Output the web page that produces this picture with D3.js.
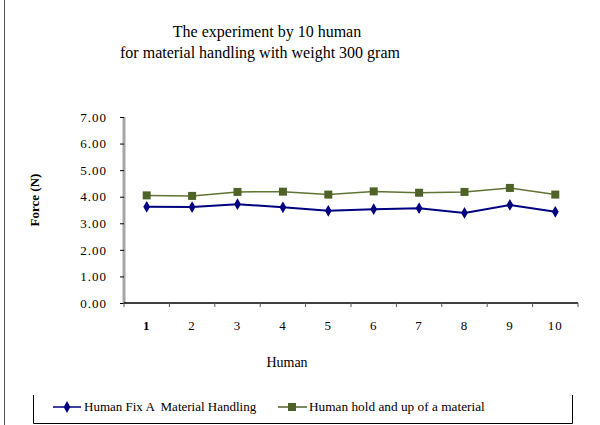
<!DOCTYPE html>
<html><head><meta charset="utf-8">
<script src="https://cdn.jsdelivr.net/npm/d3@7"></script>
<style>body{margin:0;background:#fff}svg{display:block}text{font-family:"Liberation Serif","Times New Roman",serif;fill:#000;white-space:pre}</style>
</head><body>
<script>
const categories = ["1","2","3","4","5","6","7","8","9","10"];
const seriesFix = [3.62, 3.61, 3.72, 3.60, 3.47, 3.53, 3.57, 3.39, 3.69, 3.43];
const seriesHold = [4.05, 4.03, 4.18, 4.19, 4.08, 4.20, 4.15, 4.18, 4.33, 4.08];
const yTicks = [0,1,2,3,4,5,6,7];
const seriesNames = ["Human Fix A  Material Handling", "Human hold and up of a material"];
const titleLines = ["The experiment by 10 human", "for material handling with weight 300 gram"];

const W=600,H=425;
const svg=d3.select("body").append("svg").attr("width",W).attr("height",H);
svg.append("rect").attr("width",W).attr("height",H).attr("fill","#fff");
svg.append("line").attr("x1",4.5).attr("x2",4.5).attr("y1",0).attr("y2",H).attr("stroke","#555").attr("stroke-width",1);

const x=d3.scaleBand().domain(categories).range([124,578]);
const y=d3.scaleLinear().domain([0,7]).range([303,117]);

// title
svg.append("text").attr("x",267).attr("y",37).attr("text-anchor","middle").attr("font-size",16).text(titleLines[0]);
svg.append("text").attr("x",260).attr("y",58).attr("text-anchor","middle").attr("font-size",16).text(titleLines[1]);

// y axis
const ya=svg.append("g").attr("transform","translate(124,0)")
  .call(d3.axisLeft(y).tickValues(yTicks).tickFormat(d3.format(".2f")).tickSize(4).tickPadding(13));
ya.select(".domain").attr("stroke","#a6a6a6").attr("stroke-width",3).attr("d","M0,117V304");
ya.selectAll(".tick line").attr("stroke","#000");
ya.selectAll(".tick text").attr("font-size",13).attr("letter-spacing",1).attr("font-family","Liberation Serif, serif").attr("fill","#000");

// x axis
const xa=svg.append("g").attr("transform","translate(0,303)")
  .call(d3.axisBottom(x).tickSize(0).tickPadding(18));
xa.select(".domain").attr("stroke","#000").attr("stroke-width",1.5).attr("d","M124,0H578");
xa.selectAll(".tick text").attr("font-size",13).attr("letter-spacing",1).attr("font-family","Liberation Serif, serif").attr("fill","#000").attr("font-weight",(d,i)=>i===0?"bold":"normal");
const tickPos=categories.map(c=>x(c)).concat([x.range()[1]]);
svg.append("g").selectAll("line").data(tickPos).join("line")
  .attr("x1",d=>d).attr("x2",d=>d).attr("y1",303).attr("y2",307).attr("stroke","#555").attr("stroke-width",1);

// axis titles
svg.append("text").attr("transform","translate(39,200) rotate(-90)").attr("text-anchor","middle").attr("font-size",13).attr("font-weight","bold").text("Force (N)");
svg.append("text").attr("x",287).attr("y",367).attr("text-anchor","middle").attr("font-size",14).text("Human");

const cx=c=>x(c)+x.bandwidth()/2;
const line=d3.line().x((d,i)=>cx(categories[i])).y(d=>y(d));

// hold series
svg.append("path").datum(seriesHold).attr("d",line).attr("fill","none").attr("stroke","#5f7332").attr("stroke-width",1.5);
svg.append("g").selectAll("rect").data(seriesHold).join("rect")
  .attr("x",(d,i)=>cx(categories[i])-4).attr("y",d=>y(d)-4).attr("width",8).attr("height",8).attr("fill","#4f6228");
// fix series
svg.append("path").datum(seriesFix).attr("d",line).attr("fill","none").attr("stroke","#000080").attr("stroke-width",2);
const diamond=d3.symbol().type(d3.symbolDiamond).size(40);
svg.append("g").selectAll("path").data(seriesFix).join("path")
  .attr("d",diamond).attr("transform",(d,i)=>`translate(${cx(categories[i])},${y(d)})`).attr("fill","#000080");

// legend
svg.append("path").attr("d","M33.5,395V423.5H572.5V395").attr("fill","none").attr("stroke","#000").attr("stroke-width",1);
const lg=svg.append("g");
lg.append("line").attr("x1",53).attr("x2",81).attr("y1",407).attr("y2",407).attr("stroke","#000080").attr("stroke-width",1.5);
lg.append("path").attr("d",diamond).attr("transform","translate(67,407)").attr("fill","#000080");
lg.append("text").attr("x",84).attr("y",411).attr("font-size",13).text(seriesNames[0]);
lg.append("line").attr("x1",278).attr("x2",307).attr("y1",407).attr("y2",407).attr("stroke","#4f6228").attr("stroke-width",1.5);
lg.append("rect").attr("x",288).attr("y",403).attr("width",8).attr("height",8).attr("fill","#4f6228");
lg.append("text").attr("x",309).attr("y",411).attr("font-size",13.3).text(seriesNames[1]);
</script>
</body></html>
